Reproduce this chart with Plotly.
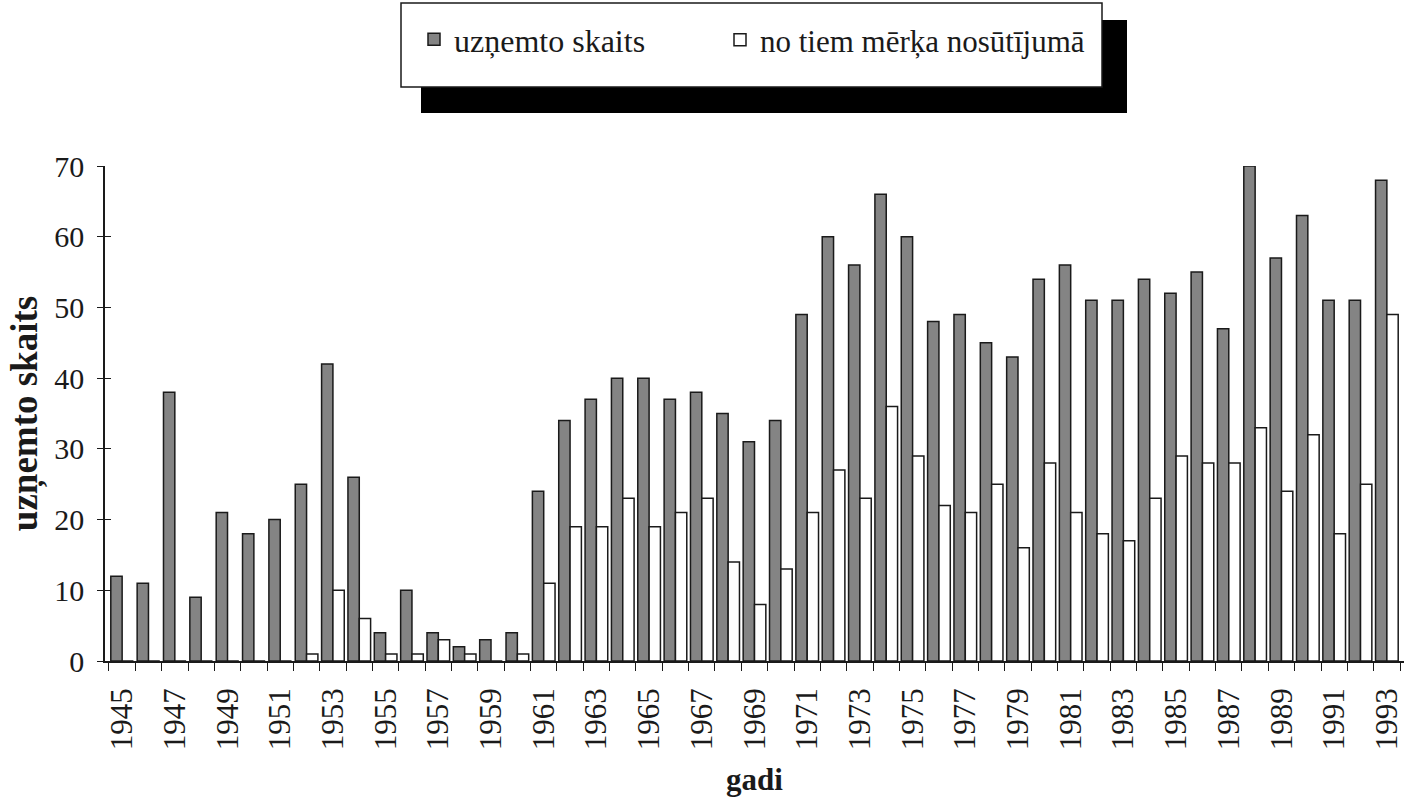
import plotly.graph_objects as go

years = list(range(1945, 1994))
uznemto = [12, 11, 38, 9, 21, 18, 20, 25, 42, 26, 4, 10, 4, 2, 3, 4,
           24, 34, 37, 40, 40, 37, 38, 35, 31, 34, 49, 60, 56, 66, 60, 48, 49,
           45, 43, 54, 56, 51, 51, 54, 52, 55, 47, 70, 57, 63, 51, 51, 68]
merka = [0, 0, 0, 0, 0, 0, 0, 1, 10, 6, 1, 1, 3, 1, 0, 1,
         11, 19, 19, 23, 19, 21, 23, 14, 8, 13, 21, 27, 23, 36, 29, 22, 21,
         25, 16, 28, 21, 18, 17, 23, 29, 28, 28, 33, 24, 32, 18, 25, 49]
tick_years = list(range(1945, 1994, 2))
tick_labels = [str(y) for y in tick_years]
y_ticks = [0, 10, 20, 30, 40, 50, 60, 70]

FONT = "Liberation Serif"
INK = "#1a1a1a"

W, H = 1405, 807
L, R, T, B = 105, 1, 166, 146
pw, ph = W - L - R, H - T - B

def px(x):
    return (x - L) / pw

def py(y):
    return (H - B - y) / ph

fig = go.Figure()
fig.add_trace(go.Bar(x=years, y=uznemto, name="uzņemto skaits", legend="legend",
                     marker=dict(color="#848484", line=dict(color=INK, width=1.5))))
fig.add_trace(go.Bar(x=years, y=merka, name="no tiem mērķa nosūtījumā", legend="legend2",
                     marker=dict(color="white", line=dict(color=INK, width=1.5))))

leg_common = dict(orientation="h", xanchor="left", yanchor="top",
                  bgcolor="rgba(0,0,0,0)", borderwidth=0, itemwidth=30)

fig.update_layout(
    width=W, height=H,
    margin=dict(l=L, r=R, t=T, b=B, autoexpand=False),
    paper_bgcolor="white", plot_bgcolor="white",
    barmode="group", bargap=0.14, bargroupgap=0,
    font=dict(family=FONT, color=INK, size=30),
    showlegend=True,
    legend=dict(x=px(414), y=py(12), font=dict(family=FONT, size=32, color=INK), **leg_common),
    legend2=dict(x=px(720), y=py(13), font=dict(family=FONT, size=31, color=INK), **leg_common),
    xaxis=dict(range=[1944.35, 1993.65], tickmode="array", tickvals=tick_years,
               ticktext=tick_labels, tickangle=-90, ticks="", ticklabelstandoff=13,
               ticklabeloverflow="allow",
               showline=True, linecolor=INK, linewidth=1.5, showgrid=False, zeroline=False,
               minor=dict(tick0=1944.5, dtick=1, ticks="outside", ticklen=8,
                          tickcolor=INK, tickwidth=1.2, showgrid=False),
               tickfont=dict(family=FONT, size=31, color=INK),
               title=dict(text="<b>gadi</b>", font=dict(family=FONT, size=31, color=INK), standoff=19)),
    yaxis=dict(range=[0, 70], tickmode="array", tickvals=y_ticks,
               ticks="outside", ticklen=6, tickwidth=1.2, tickcolor=INK,
               ticklabelstandoff=7,
               showline=True, linecolor=INK, linewidth=1.5, showgrid=False, zeroline=False,
               tickfont=dict(family=FONT, size=30, color=INK),
               title=dict(text="<b>uzņemto skaits</b>", font=dict(family=FONT, size=37, color=INK), standoff=5)),
    yaxis2=dict(range=[0, 70], overlaying="y", anchor="x", side="left",
                tickmode="array", tickvals=y_ticks, ticks="inside", ticklen=6,
                tickwidth=1.2, tickcolor=INK, showticklabels=False, showline=False,
                showgrid=False, zeroline=False),
    shapes=[
        dict(type="rect", xref="paper", yref="paper", x0=px(421), x1=px(1127), y0=py(113), y1=py(20),
             fillcolor="black", line=dict(width=0), layer="above"),
        dict(type="rect", xref="paper", yref="paper", x0=px(401), x1=px(1102), y0=py(87), y1=py(3),
             fillcolor="white", line=dict(color=INK, width=1.5), layer="above"),
    ],
)
fig.add_trace(go.Scatter(x=[None], y=[None], yaxis="y2", showlegend=False, hoverinfo="skip"))

# remove the browser's default 8px body margin so the 1405x807 figure fills the window exactly
fig.write_html("out.html", config={"displayModeBar": False},
               post_script="document.body.style.margin='0';document.body.style.overflow='hidden';")
